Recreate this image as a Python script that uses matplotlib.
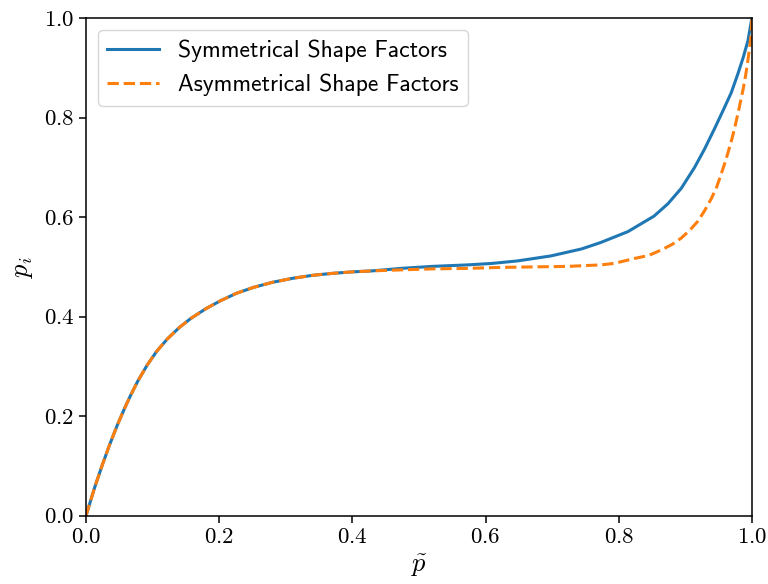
import matplotlib
matplotlib.use("Agg")
import matplotlib.pyplot as plt

plt.rcParams['font.family'] = 'serif'
plt.rcParams['font.serif'] = ['cmr10']
plt.rcParams['mathtext.fontset'] = 'cm'
plt.rcParams['axes.formatter.use_mathtext'] = True

# common part of both curves (low p)
p_low = [0.0, 0.003, 0.0128, 0.025, 0.035, 0.047, 0.058, 0.067, 0.078, 0.092,
         0.106, 0.122, 0.14, 0.157, 0.18, 0.202, 0.226, 0.252, 0.28, 0.31,
         0.34, 0.37, 0.40, 0.43]
pi_low = [0.0, 0.013, 0.056, 0.104, 0.141, 0.182, 0.216, 0.242, 0.271, 0.303,
          0.330, 0.355, 0.378, 0.396, 0.416, 0.432, 0.447, 0.459, 0.469, 0.477,
          0.483, 0.487, 0.490, 0.492]

# symmetrical shape factors
p_sym = p_low + [0.473, 0.52, 0.573, 0.61, 0.648, 0.698, 0.744, 0.773, 0.814,
                 0.853, 0.874, 0.894, 0.914, 0.929, 0.944, 0.957, 0.969, 0.979,
                 0.987, 0.994, 1.0]
pi_sym = pi_low + [0.497, 0.501, 0.504, 0.507, 0.512, 0.522, 0.536, 0.549, 0.571,
                   0.602, 0.627, 0.658, 0.700, 0.737, 0.778, 0.815, 0.850, 0.888,
                   0.921, 0.954, 1.0]

# asymmetrical shape factors
p_asym = p_low + [0.473, 0.52, 0.573, 0.623, 0.673, 0.723, 0.773, 0.793, 0.824,
                  0.845, 0.864, 0.88, 0.894, 0.907, 0.919, 0.929, 0.939, 0.947,
                  0.953, 0.959, 0.964, 0.970, 0.975, 0.981, 0.987, 0.991, 0.994,
                  0.997, 0.999, 1.0]
pi_asym = pi_low + [0.494, 0.496, 0.497, 0.499, 0.500, 0.501, 0.504, 0.507, 0.517,
                    0.523, 0.534, 0.545, 0.558, 0.574, 0.592, 0.613, 0.637, 0.660,
                    0.683, 0.707, 0.729, 0.757, 0.784, 0.820, 0.858, 0.888, 0.915,
                    0.945, 0.970, 1.0]

fig = plt.figure(figsize=(7.68, 5.84), dpi=100)
ax = fig.add_axes([0.112, 0.117, 0.867, 0.852])

ax.plot(p_sym, pi_sym, '-', color='#1f77b4', lw=2.2, label='Symmetrical Shape Factors')
ax.plot(p_asym, pi_asym, '--', color='#ff7f0e', lw=2.2, label='Asymmetrical Shape Factors')

ax.set_xlim(0, 1)
ax.set_ylim(0, 1)
ax.tick_params(labelsize=16.5, width=1.1, length=5)
for s in ax.spines.values():
    s.set_linewidth(1.1)

ax.set_xlabel(r'$\tilde{p}$', fontsize=19, labelpad=4)
ax.set_ylabel(r'$p_i$', fontsize=19, labelpad=6)

ax.legend(loc='upper left', prop={'family': 'cmss10', 'size': 17},
          handlelength=2.2)

fig.savefig('out.png', dpi=100)
